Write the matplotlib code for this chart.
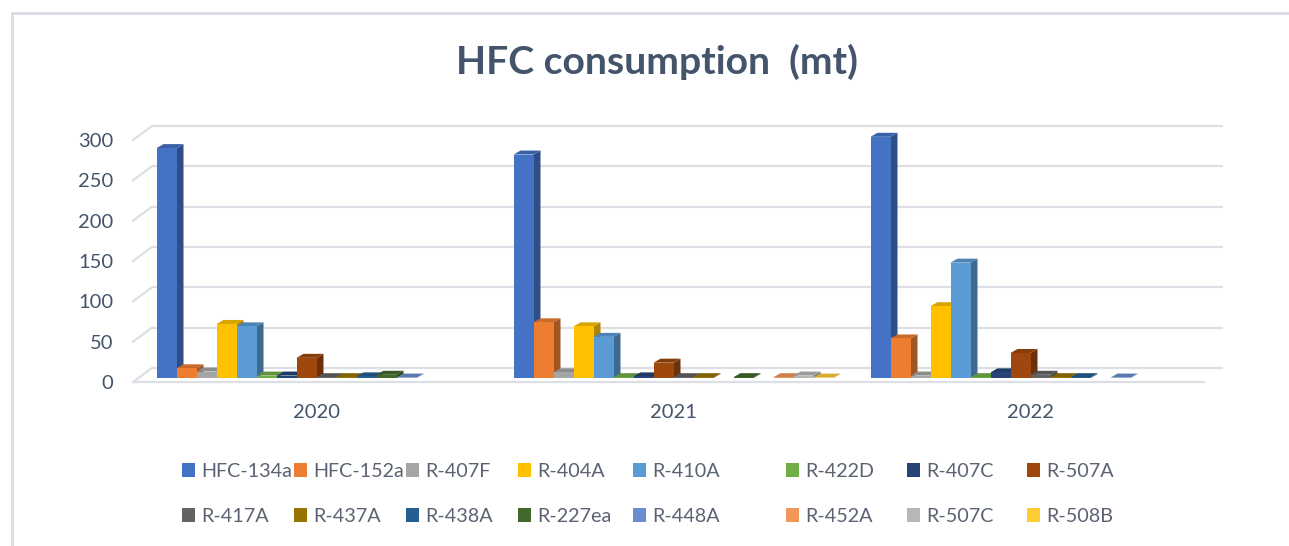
import matplotlib.pyplot as plt
import numpy as np
from matplotlib.patches import Patch
from matplotlib.lines import Line2D
from matplotlib.colors import to_rgb

plt.rcParams["font.family"] = ["Lato", "DejaVu Sans"]

years = ["2020", "2021", "2022"]
gases = ["HFC-134a", "HFC-152a", "R-407F", "R-404A", "R-410A", "R-422D",
         "R-407C", "R-507A", "R-417A", "R-437A", "R-438A", "R-227ea",
         "R-448A", "R-452A", "R-507C", "R-508B"]
nan = np.nan
# consumption (mt) per gas, one list per year (nan = no entry)
mt_2020 = [285, 12, 8, 67, 64, 3, 3, 25, 1, 1, 2, 4, 0.5, nan, nan, nan]
mt_2021 = [277, 69, 7, 64, 51, 1, 2, 19, 1, 1, nan, 1, nan, 1, 3, 0.5]
mt_2022 = [299, 49, 3, 89, 143, 1, 7, 31, 4, 1, 1, nan, 0.5, nan, nan, nan]
colors = ["#4472C4", "#ED7D31", "#A5A5A5", "#FFC000", "#5B9BD5", "#70AD47",
          "#264478", "#9E480E", "#636363", "#997300", "#255E91", "#43682B",
          "#698ED0", "#F1975A", "#B7B7B7", "#FFCD33"]

W, H = 1289, 546
TXT = "#44546A"

fig = plt.figure(figsize=(W / 100, H / 100), dpi=100)
# front plane of the 3-D box: x 133..1204 px, value 0..300 at y 382..140 px
ax = fig.add_axes([133 / W, 1 - 382 / H, (1204 - 133) / W, (382 - 140) / H])
ax.set_xlim(-0.5, 2.5)
ax.set_ylim(0, 300)
ax.set_facecolor("none")
for s in ax.spines.values():
    s.set_visible(False)

sx = 3.0 / (1204 - 133)   # data units per pixel
sy = 300.0 / (382 - 140)

# back wall offset, bar placement offset and bar depth (pixels -> data)
wx, wy = 19 * sx, 14 * sy
bx, by = 5 * sx, 4 * sy
dx, dy = 7 * sx, 4 * sy
bw = 20 * sx

grid_c = "#DCDFE5"
for v in range(0, 301, 50):
    ax.plot([-0.5 + wx, 2.5 + wx], [v + wy, v + wy], color=grid_c, lw=1.6,
            zorder=0, clip_on=False, solid_capstyle="butt")
    ax.plot([-0.5, -0.5 + wx], [v, v + wy], color=grid_c, lw=1.6,
            zorder=0, clip_on=False)
ax.plot([-0.5, 2.5], [0, 0], color=grid_c, lw=1.6, zorder=0, clip_on=False)


def shade(c, f):
    r, g, b = to_rgb(c)
    return (r * f, g * f, b * f)


data = [mt_2020, mt_2021, mt_2022]
for g, vals in enumerate(data):
    lefts = g - 8 * bw + np.arange(len(gases)) * bw + bx
    for k, v in enumerate(vals):
        if np.isnan(v):
            continue
        x0, x1 = lefts[k], lefts[k] + bw
        y0, y1 = by, by + v
        ax.fill([x1, x1 + dx, x1 + dx, x1], [y0, y0 + dy, y1 + dy, y1],
                color=shade(colors[k], 0.68), lw=0, zorder=2, clip_on=False)
        ax.fill([x0, x1, x1 + dx, x0 + dx], [y1, y1, y1 + dy, y1 + dy],
                color=shade(colors[k], 0.85), lw=0, zorder=2, clip_on=False)
    ax.bar(lefts, np.nan_to_num(vals), width=bw, bottom=by, align="edge",
           color=colors, lw=0, zorder=3, clip_on=False)

ax.set_yticks(range(0, 301, 50))
ax.set_xticks(np.arange(3) + bx)
ax.set_xticklabels(years)
ax.tick_params(axis="y", length=0, pad=14, labelsize=14.5, labelcolor=TXT)
ax.tick_params(axis="x", length=0, pad=16, labelsize=14.5, labelcolor=TXT)

fig.text(657 / W, 1 - 62 / H, "HFC consumption  (mt)", ha="center",
         va="center", fontsize=28.2, fontweight="bold", color=TXT)

# legend: 8 columns x 2 rows
col_x = [182, 294, 406, 518, 633, 786, 907, 1027]
for c, x in enumerate(col_x):
    idx = [c, c + 8]
    handles = [Patch(facecolor=colors[i], edgecolor="none") for i in idx]
    fig.legend(handles, [gases[i] for i in idx], loc="center left",
               bbox_to_anchor=(x / W, 1 - 494 / H), frameon=False,
               fontsize=14.2, labelcolor="#5A6273", handlelength=0.68,
               handleheight=0.68, handletextpad=0.3, borderpad=0,
               borderaxespad=0, labelspacing=1.42)

# chart border (left and top edges)
fig.add_artist(Line2D([12 / W, 12 / W], [0, 1 - 13 / H], color="#D9DCE3",
                      lw=2, transform=fig.transFigure))
fig.add_artist(Line2D([12 / W, 1], [1 - 13 / H, 1 - 13 / H], color="#D9DCE3",
                      lw=2, transform=fig.transFigure))

fig.savefig("out.png", dpi=100)
